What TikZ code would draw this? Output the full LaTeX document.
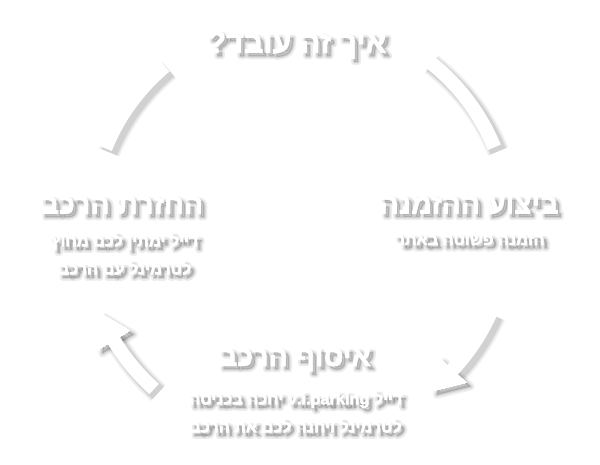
\documentclass[tikz,border=0pt]{standalone}
\usepackage{fontspec}
\newfontfamily\heb[Script=Hebrew]{Liberation Sans}
\TeXXeTstate=1
\newcommand\strokew{0.8}
\tikzset{
  band/.style={line width=14pt},
  outl/.style={execute at begin node={\special{pdf:literal direct 2 Tr \strokew\space w 1 j}},
               execute at end node={\special{pdf:literal direct 0 Tr}}},
  headtxt/.style={outl, font=\heb\bfseries\fontsize{28.5}{30}\selectfont, inner sep=0pt},
  titletxt/.style={outl, font=\heb\bfseries\fontsize{30.5}{32}\selectfont, inner sep=0pt},
  subtxt/.style={outl, font=\heb\bfseries\fontsize{16.3}{28}\selectfont, inner sep=0pt, align=center},
}
\newcommand\texts[2]{%
  \renewcommand\strokew{#2}%
  \node[titletxt,text=#1] (title) at (297,419) {\beginR איך זה עובד?\endR};
  \node[headtxt,text=#1] (h1) at (469,259) {\beginR ביצוע ההזמנה\endR};
  \node[subtxt,text=#1] (s1) at (470,224) {\beginR הזמנה פשוטה באתר\endR};
  \node[headtxt,text=#1] (h2) at (122,259) {\beginR החזרת הרכב\endR};
  \node[subtxt,text=#1] (s2) at (125,210) {\beginR דייל ימתין לכם מחוץ\endR\\\beginR לטרמינל עם הרכב\endR};
  \node[headtxt,text=#1] (h3) at (295,104) {\beginR איסוף הרכב\endR};
  \node[subtxt,text=#1] (s3) at (296,52) {\beginR דייל \beginL v.i.parking\endL{} יחכה בכניסה\endR\\\beginR לטרמינל ויחנה לכם את הרכב\endR};
}
\newcommand\shapes[2]{%
  \begin{scope}[shift={(300,237)}, line join=round]
    \draw[band,line width=14pt+#2pt,draw=#1] (158:210) arc[start angle=158, end angle=130, radius=210];
    \draw[band,line width=14pt+#2pt,draw=#1] (52.6:210) arc[start angle=52.6, end angle=22.3, radius=210];
    \draw[band,line width=14pt+#2pt,draw=#1] (-24:209) arc[start angle=-24, end angle=-44, radius=209];
    \filldraw[#1,line width=#2pt] (-43:192) -- (-51:211) -- (-43:228) -- cycle;
    \draw[band,line width=14pt+#2pt,draw=#1] (228:218) arc[start angle=228, end angle=210, radius=218];
    \filldraw[#1,line width=#2pt] (211.3:199) -- (203.3:217) -- (211.3:236) -- cycle;
  \end{scope}
}
\begin{document}
\begin{tikzpicture}[x=1pt,y=1pt]
  \fill[white] (0,0) rectangle (600,464);
  \useasboundingbox (0,0) rectangle (600,464);
  \foreach \w/\o in {8/0.05,5/0.06,2.2/0.08}{
    \begin{scope}[shift={(4,-4)}, opacity=\o]
      \shapes{black}{\w}
    \end{scope}
  }
  \foreach \w/\o in {6/0.07,2.5/0.1}{
    \begin{scope}[shift={(3.5,-3.5)}, opacity=\o]
      \texts{black}{\w}
    \end{scope}
  }
  \shapes{white}{0}
  \texts{white}{0.6}
\end{tikzpicture}
\end{document}
